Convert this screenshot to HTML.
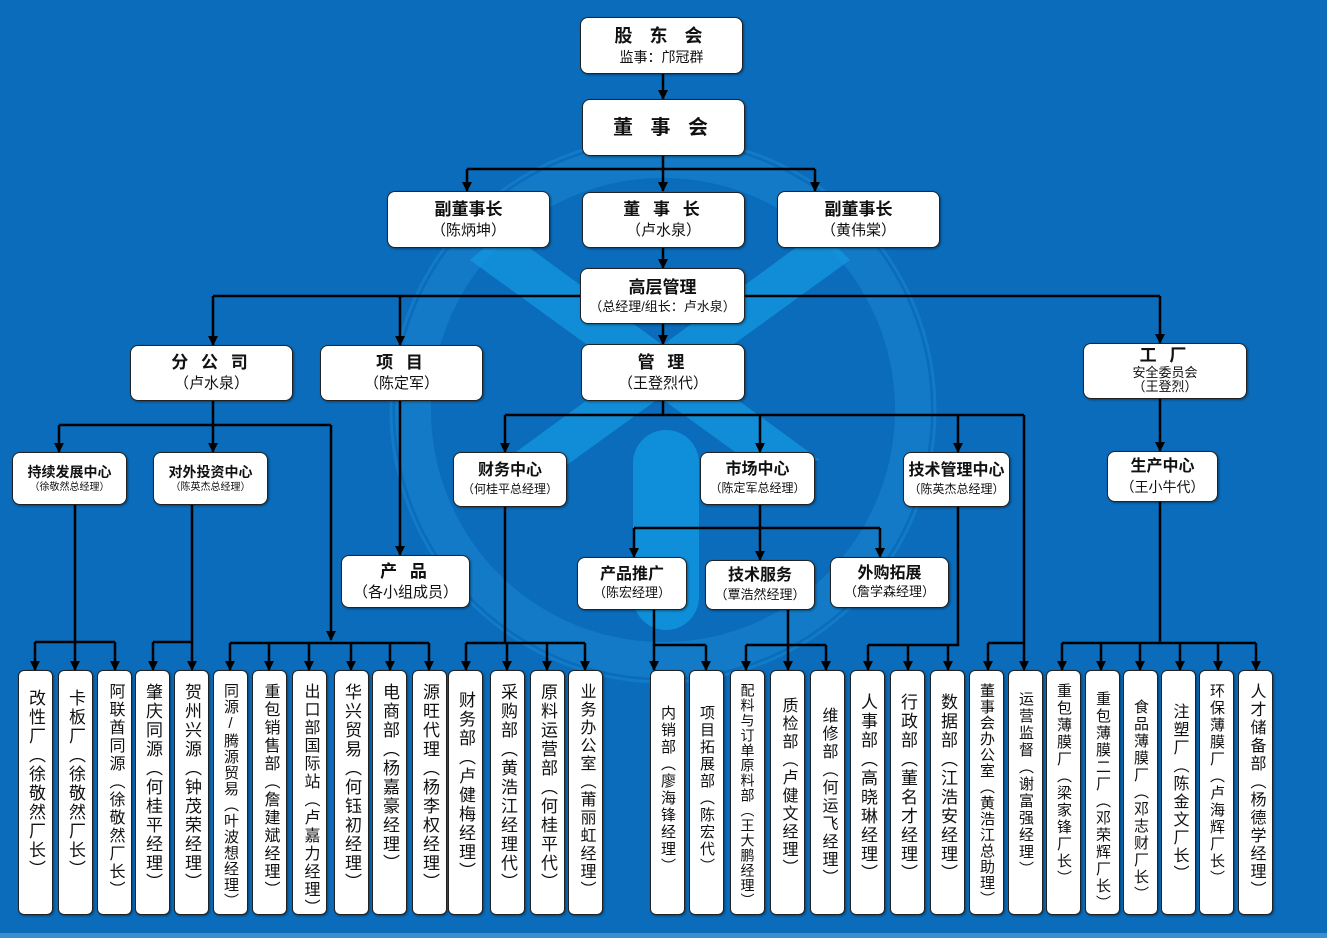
<!DOCTYPE html>
<html><head><meta charset="utf-8">
<style>
*{margin:0;padding:0;box-sizing:border-box}
body{width:1327px;height:938px;background:#0a6cba;position:relative;overflow:hidden;font-family:"Liberation Sans","Noto Sans CJK SC",sans-serif;color:#111}
.b{position:absolute;background:#fff;border:1.5px solid #222;border-radius:8px;text-align:center;display:flex;flex-direction:column;justify-content:center;align-items:center;line-height:1.3;box-shadow:1px 1px 2px rgba(0,0,0,.4)}
.t{font-weight:bold;font-size:17px}
.s{font-size:14px}
.v{position:absolute;top:670px;height:245px;width:35px;background:#fff;border:1.5px solid #222;border-radius:6px;writing-mode:vertical-rl;text-orientation:upright;padding-top:12px;display:flex;align-items:center;line-height:1;letter-spacing:2px;box-shadow:1px 1px 2px rgba(0,0,0,.4)}
svg{position:absolute;left:0;top:0}
</style></head><body>
<svg width="1327" height="938">
<defs>
<marker id="m" viewBox="0 0 10 10" refX="9" refY="5" markerWidth="10" markerHeight="10" orient="auto" markerUnits="userSpaceOnUse"><path d="M0,0 L10,5 L0,10z" fill="#000"/></marker></defs>
<circle cx="663" cy="410" r="250" fill="none" stroke="#1784cf" stroke-width="36" opacity=".6"/>
<circle cx="663" cy="410" r="272" fill="none" stroke="#1a8ad6" stroke-width="3" opacity=".5"/>
<path d="M505,230 L820,460 L760,470 L470,260z" fill="#129be3" opacity=".7"/>
<path d="M820,230 L505,460 L560,470 L850,260z" fill="#129be3" opacity=".7"/>
<rect x="633" y="430" width="66" height="200" rx="33" fill="#129be3" opacity=".75"/>
<rect x="0" y="933" width="1327" height="5" fill="#3a8fd0"/>
<g stroke="#000" stroke-width="2.5" fill="none">
<path d="M663,156V169M467,169H815M213,296H1160M213,401V425M59,425H331M663,401V415M505,415H1024M75,505V642M35,642H115M192,505V642M153,642H192M230,643H429M505,507V643M466,643H585M760,505V528M634,528H880M654,610V645H706M788,610V645M746,645H826M958,507V645H868M988,643H1024M1160,502V643M1062,643H1256"/>
</g>
<g stroke="#000" stroke-width="2.5" marker-end="url(#m)">
<line x1="663" y1="74" x2="663" y2="99"/>
<line x1="467" y1="169" x2="467" y2="191"/><line x1="663" y1="169" x2="663" y2="191"/><line x1="815" y1="169" x2="815" y2="191"/>
<line x1="663" y1="248" x2="663" y2="268"/>
<line x1="213" y1="296" x2="213" y2="345"/><line x1="400" y1="296" x2="400" y2="345"/><line x1="1160" y1="296" x2="1160" y2="343"/>
<line x1="663" y1="324" x2="663" y2="344"/>
<line x1="59" y1="425" x2="59" y2="452"/><line x1="213" y1="425" x2="213" y2="452"/><line x1="331" y1="425" x2="331" y2="640"/>
<line x1="400" y1="401" x2="400" y2="555"/>
<line x1="505" y1="415" x2="505" y2="452"/><line x1="760" y1="415" x2="760" y2="452"/><line x1="958" y1="415" x2="958" y2="452"/><line x1="1024" y1="415" x2="1024" y2="670"/>
<line x1="634" y1="528" x2="634" y2="557"/><line x1="760" y1="528" x2="760" y2="560"/><line x1="880" y1="528" x2="880" y2="557"/>
<line x1="1160" y1="399" x2="1160" y2="451"/>
<line x1="35" y1="642" x2="35" y2="670"/><line x1="75" y1="642" x2="75" y2="670"/><line x1="115" y1="642" x2="115" y2="670"/>
<line x1="153" y1="642" x2="153" y2="670"/><line x1="192" y1="642" x2="192" y2="670"/>
<line x1="230" y1="643" x2="230" y2="670"/><line x1="269" y1="643" x2="269" y2="670"/><line x1="309" y1="643" x2="309" y2="670"/><line x1="351" y1="643" x2="351" y2="670"/><line x1="390" y1="643" x2="390" y2="670"/><line x1="429" y1="643" x2="429" y2="670"/>
<line x1="466" y1="643" x2="466" y2="670"/><line x1="507" y1="643" x2="507" y2="670"/><line x1="547" y1="643" x2="547" y2="670"/><line x1="585" y1="643" x2="585" y2="670"/>
<line x1="654" y1="645" x2="654" y2="670"/><line x1="706" y1="645" x2="706" y2="670"/>
<line x1="746" y1="645" x2="746" y2="670"/><line x1="788" y1="645" x2="788" y2="670"/><line x1="826" y1="645" x2="826" y2="670"/>
<line x1="868" y1="645" x2="868" y2="670"/><line x1="908" y1="645" x2="908" y2="670"/><line x1="948" y1="645" x2="948" y2="670"/>
<line x1="988" y1="643" x2="988" y2="670"/>
<line x1="1062" y1="643" x2="1062" y2="670"/><line x1="1101" y1="643" x2="1101" y2="670"/><line x1="1140" y1="643" x2="1140" y2="670"/><line x1="1180" y1="643" x2="1180" y2="670"/><line x1="1218" y1="643" x2="1218" y2="670"/><line x1="1256" y1="643" x2="1256" y2="670"/>
</g>
</svg>

<div class="b" style="left:580px;top:17px;width:163px;height:57px"><div class="t" style="font-size:18px;letter-spacing:6px">股 东 会</div><div class="s" style="font-size:14px">监事：邝冠群</div></div>
<div class="b" style="left:582px;top:99px;width:163px;height:57px"><div class="t" style="font-size:20px;letter-spacing:6px">董 事 会</div></div>
<div class="b" style="left:387px;top:191px;width:163px;height:57px"><div class="t">副董事长</div><div class="s" style="font-size:15px">（陈炳坤）</div></div>
<div class="b" style="left:582px;top:192px;width:163px;height:56px"><div class="t" style="letter-spacing:4px">董 事 长</div><div class="s" style="font-size:15px">（卢水泉）</div></div>
<div class="b" style="left:777px;top:191px;width:163px;height:57px"><div class="t">副董事长</div><div class="s" style="font-size:15px">（黄伟棠）</div></div>
<div class="b" style="left:580px;top:268px;width:165px;height:56px"><div class="t">高层管理</div><div class="s" style="font-size:13px">（总经理/组长：卢水泉）</div></div>
<div class="b" style="left:130px;top:345px;width:163px;height:56px"><div class="t" style="letter-spacing:4px">分 公 司</div><div class="s" style="font-size:15px">（卢水泉）</div></div>
<div class="b" style="left:320px;top:345px;width:163px;height:56px"><div class="t" style="letter-spacing:4px">项 目</div><div class="s" style="font-size:15px">（陈定军）</div></div>
<div class="b" style="left:581px;top:344px;width:164px;height:57px"><div class="t" style="letter-spacing:4px">管 理</div><div class="s" style="font-size:15px">（王登烈代）</div></div>
<div class="b" style="left:1083px;top:343px;width:164px;height:56px;line-height:1.1"><div class="t" style="letter-spacing:4px">工 厂</div><div class="s" style="font-size:13px">安全委员会</div><div class="s" style="font-size:13px">（王登烈）</div></div>
<div class="b" style="left:12px;top:452px;width:115px;height:53px"><div class="t" style="font-size:14px">持续发展中心</div><div class="s" style="font-size:10px">（徐敬然总经理）</div></div>
<div class="b" style="left:153px;top:452px;width:115px;height:53px"><div class="t" style="font-size:14px">对外投资中心</div><div class="s" style="font-size:10px">（陈英杰总经理）</div></div>
<div class="b" style="left:453px;top:452px;width:114px;height:55px"><div class="t" style="font-size:16px">财务中心</div><div class="s" style="font-size:12px">（何桂平总经理）</div></div>
<div class="b" style="left:700px;top:452px;width:115px;height:53px"><div class="t" style="font-size:16px">市场中心</div><div class="s" style="font-size:12px">（陈定军总经理）</div></div>
<div class="b" style="left:903px;top:452px;width:107px;height:55px"><div class="t" style="font-size:16px">技术管理中心</div><div class="s" style="font-size:12px">（陈英杰总经理）</div></div>
<div class="b" style="left:1107px;top:451px;width:111px;height:51px"><div class="t" style="font-size:16px">生产中心</div><div class="s" style="font-size:14px">（王小牛代）</div></div>
<div class="b" style="left:341px;top:555px;width:129px;height:53px"><div class="t" style="letter-spacing:4px">产 品</div><div class="s" style="font-size:15px">（各小组成员）</div></div>
<div class="b" style="left:577px;top:557px;width:110px;height:53px"><div class="t" style="font-size:16px">产品推广</div><div class="s" style="font-size:13px">（陈宏经理）</div></div>
<div class="b" style="left:705px;top:560px;width:110px;height:50px"><div class="t" style="font-size:16px">技术服务</div><div class="s" style="font-size:13px">（覃浩然经理）</div></div>
<div class="b" style="left:830px;top:557px;width:119px;height:51px"><div class="t" style="font-size:16px">外购拓展</div><div class="s" style="font-size:13px">（詹学森经理）</div></div>

<div class="v" style="left:18px;font-size:17px;padding-top:18px">改性厂（徐敬然厂长）</div>
<div class="v" style="left:58px;font-size:17px;padding-top:18px">卡板厂（徐敬然厂长）</div>
<div class="v" style="left:97px;font-size:16px">阿联酋同源（徐敬然厂长）</div>
<div class="v" style="left:135px;font-size:17px">肇庆同源（何桂平经理）</div>
<div class="v" style="left:174px;font-size:17px">贺州兴源（钟茂荣经理）</div>
<div class="v" style="left:213px;font-size:15px;letter-spacing:1px">同源/腾源贸易（叶波想经理）</div>
<div class="v" style="left:252px;font-size:16px">重包销售部（詹建斌经理）</div>
<div class="v" style="left:292px;font-size:16px">出口部国际站（卢嘉力经理）</div>
<div class="v" style="left:334px;font-size:17px">华兴贸易（何钰初经理）</div>
<div class="v" style="left:372px;font-size:17px">电商部（杨嘉豪经理）</div>
<div class="v" style="left:412px;font-size:17px">源旺代理（杨李权经理）</div>
<div class="v" style="left:448px;font-size:17px;padding-top:20px">财务部（卢健梅经理）</div>
<div class="v" style="left:490px;font-size:17px">采购部（黄浩江经理代）</div>
<div class="v" style="left:530px;font-size:17px">原料运营部（何桂平代）</div>
<div class="v" style="left:568px;font-size:16px">业务办公室（莆丽虹经理）</div>
<div class="v" style="left:650px;font-size:15px;padding-top:34px">内销部（廖海锋经理）</div>
<div class="v" style="left:689px;font-size:15px;padding-top:34px">项目拓展部（陈宏代）</div>
<div class="v" style="left:730px;font-size:14px;letter-spacing:1px">配料与订单原料部（王大鹏经理）</div>
<div class="v" style="left:770px;font-size:16px;padding-top:26px">质检部（卢健文经理）</div>
<div class="v" style="left:810px;font-size:16px;padding-top:36px">维修部（何运飞经理）</div>
<div class="v" style="left:850px;font-size:17px;padding-top:22px">人事部（高晓琳经理）</div>
<div class="v" style="left:890px;font-size:17px;padding-top:22px">行政部（董名才经理）</div>
<div class="v" style="left:930px;font-size:17px;padding-top:22px">数据部（江浩安经理）</div>
<div class="v" style="left:969px;font-size:15px;letter-spacing:1px">董事会办公室（黄浩江总助理）</div>
<div class="v" style="left:1008px;font-size:15px;padding-top:20px">运营监督（谢富强经理）</div>
<div class="v" style="left:1046px;font-size:15px">重包薄膜厂（梁家锋厂长）</div>
<div class="v" style="left:1085px;font-size:15px;padding-top:20px">重包薄膜二厂（邓荣辉厂长）</div>
<div class="v" style="left:1123px;font-size:15px;padding-top:28px">食品薄膜厂（邓志财厂长）</div>
<div class="v" style="left:1161px;font-size:16px;padding-top:32px">注塑厂（陈金文厂长）</div>
<div class="v" style="left:1199px;font-size:15px">环保薄膜厂（卢海辉厂长）</div>
<div class="v" style="left:1238px;font-size:16px">人才储备部（杨德学经理）</div>
</body></html>
